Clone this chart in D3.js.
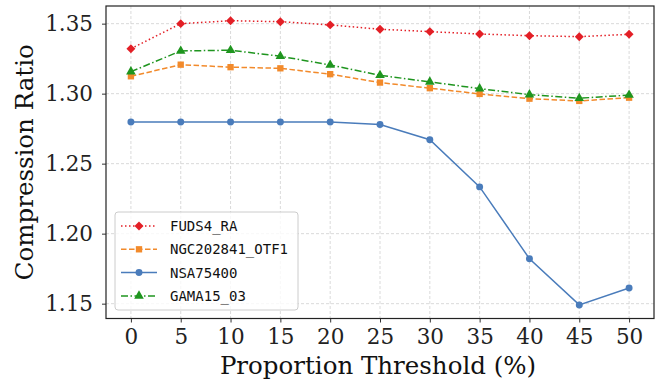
<!DOCTYPE html>
<html><head><meta charset="utf-8">
<script src="https://cdn.jsdelivr.net/npm/d3@7"></script>
<style>body{margin:0;background:#fff}svg{display:block}</style>
</head><body>
<script>
const thresholds = [0,5,10,15,20,25,30,35,40,45,50];
const fuds4 = [1.3321,1.3500,1.3521,1.3514,1.3491,1.3460,1.3443,1.3426,1.3414,1.3407,1.3424];
const ngc = [1.3124,1.3207,1.3189,1.3181,1.3139,1.3079,1.3039,1.2998,1.2964,1.2948,1.2971];
const nsa = [1.2798,1.2798,1.2798,1.2798,1.2797,1.2779,1.2671,1.2334,1.1821,1.1491,1.1612];
const gama = [1.3157,1.3305,1.3310,1.3267,1.3205,1.3131,1.3084,1.3036,1.2993,1.2967,1.2990];
const yTicks = [1.15,1.20,1.25,1.30,1.35];
const xTicks = [0,5,10,15,20,25,30,35,40,45,50];

const series = [
  {name:"FUDS4_RA", values:fuds4, color:"#e31f26", dash:"1.5,2.5", marker:"diamond"},
  {name:"NGC202841_OTF1", values:ngc, color:"#f28a2b", dash:"5.5,2.5", marker:"square"},
  {name:"NSA75400", values:nsa, color:"#4a7cbb", dash:null, marker:"circle"},
  {name:"GAMA15_03", values:gama, color:"#1f951f", dash:"7,2.5,1.5,2.5", marker:"triangle"}
];

const W=667,H=383;
const m={l:106,r:13,t:6,b:64.5};
const svg=d3.select("body").append("svg").attr("width",W).attr("height",H);
const x=d3.scaleLinear().domain([-2.5,52.5]).range([m.l,W-m.r]);
const y=d3.scaleLinear().domain([1.1394,1.3626]).range([H-m.b,m.t]);

// grid
const g=svg.append("g");
g.selectAll(".gx").data(xTicks).join("line")
 .attr("x1",d=>x(d)).attr("x2",d=>x(d)).attr("y1",m.t).attr("y2",H-m.b)
 .attr("stroke","#d0d0d0").attr("stroke-width",0.8).attr("stroke-dasharray","3,2");
g.selectAll(".gy").data(yTicks).join("line")
 .attr("x1",m.l).attr("x2",W-m.r).attr("y1",d=>y(d)).attr("y2",d=>y(d))
 .attr("stroke","#d0d0d0").attr("stroke-width",0.8).attr("stroke-dasharray","3,2");

// axes
const xa=svg.append("g").attr("transform",`translate(0,${H-m.b})`)
 .call(d3.axisBottom(x).tickValues(xTicks).tickSize(4).tickPadding(6).tickFormat(d3.format("d")));
const ya=svg.append("g").attr("transform",`translate(${m.l},0)`)
 .call(d3.axisLeft(y).tickValues(yTicks).tickSize(4).tickPadding(9).tickFormat(d3.format(".2f")));
[xa,ya].forEach(a=>{
  a.selectAll("text").attr("font-family","DejaVu Serif").attr("font-size",21.5).attr("fill","#222");
  a.selectAll(".tick line").attr("stroke","#333");
  a.select(".domain").remove();
});
svg.append("rect").attr("x",m.l).attr("y",m.t).attr("width",W-m.r-m.l).attr("height",H-m.b-m.t)
 .attr("fill","none").attr("stroke","#222").attr("stroke-width",1.2);

svg.append("text").attr("x",378).attr("y",374).attr("text-anchor","middle")
 .attr("font-family","DejaVu Serif").attr("font-size",24.5).attr("fill","#111").text("Proportion Threshold (%)");
svg.append("text").attr("transform",`translate(33,${(m.t+H-m.b)/2}) rotate(-90)`).attr("text-anchor","middle")
 .attr("font-family","DejaVu Serif").attr("font-size",24.5).attr("fill","#111").text("Compression Ratio");

const sym={diamond:d3.symbol().type(d3.symbolSquare).size(40),
 square:d3.symbol().type(d3.symbolSquare).size(40),
 circle:d3.symbol().type(d3.symbolCircle).size(38),
 triangle:d3.symbol().type(d3.symbolTriangle).size(40)};
const rot={diamond:45,square:0,circle:0,triangle:0};

const line=d3.line().x((d,i)=>x(thresholds[i])).y(d=>y(d));
series.forEach(s=>{
  svg.append("path").attr("d",line(s.values)).attr("fill","none").attr("stroke",s.color)
   .attr("stroke-width",1.5).attr("stroke-dasharray",s.dash);
  svg.append("g").selectAll("path").data(s.values).join("path")
   .attr("transform",(d,i)=>`translate(${x(thresholds[i])},${y(d)}) rotate(${rot[s.marker]})`)
   .attr("d",sym[s.marker]).attr("fill",s.color);
});

// legend
const lg=svg.append("g");
lg.append("rect").attr("x",115).attr("y",212).attr("width",183).attr("height",98).attr("rx",3)
 .attr("fill","#fff").attr("fill-opacity",0.8).attr("stroke","#ccc").attr("stroke-width",1);
series.forEach((s,i)=>{
  const yy=226+i*23.3;
  lg.append("line").attr("x1",121).attr("x2",157).attr("y1",yy).attr("y2",yy)
   .attr("stroke",s.color).attr("stroke-width",1.5).attr("stroke-dasharray",s.dash);
  lg.append("path").attr("transform",`translate(139,${yy}) rotate(${rot[s.marker]})`).attr("d",sym[s.marker]).attr("fill",s.color);
  lg.append("text").attr("x",170).attr("y",yy).attr("dy","0.36em")
   .attr("font-family","DejaVu Sans Mono").attr("font-size",14).attr("fill","#111").text(s.name);
});
</script>
</body></html>
